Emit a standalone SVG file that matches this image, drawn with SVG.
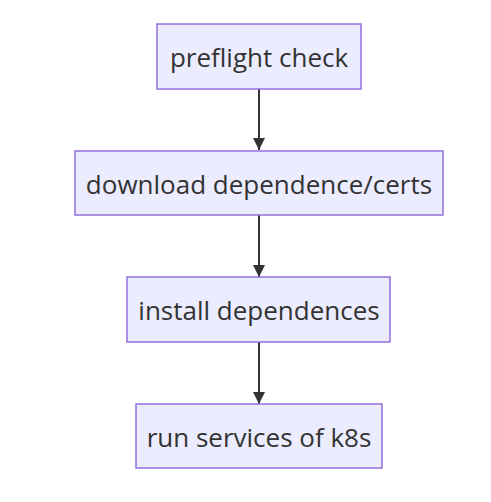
<svg xmlns="http://www.w3.org/2000/svg" width="491" height="502" viewBox="0 0 491 502">
<style>
.node rect{fill:#ECECFF;stroke:#9370DB;stroke-width:1.5}
.node text{font-family:"Open Sans","Noto Sans",sans-serif;font-size:26px;fill:#333;text-anchor:middle;dominant-baseline:central}
.edge{stroke:#333;stroke-width:2;fill:none}
</style>
<defs>
<marker id="arrow" viewBox="0 0 10 10" refX="10" refY="5" markerUnits="userSpaceOnUse" markerWidth="12" markerHeight="12" orient="auto">
<path d="M0,0 L10,5 L0,10 z" fill="#333"/>
</marker>
</defs>
<rect width="491" height="502" fill="#fff"/>
<g id="connectors">
<path class="edge" d="M259,89 L259,150" marker-end="url(#arrow)"/>
<path class="edge" d="M259,215 L259,277" marker-end="url(#arrow)"/>
<path class="edge" d="M259,342 L259,404" marker-end="url(#arrow)"/>
</g>
<g id="preflight" class="node">
<rect x="157" y="24" width="204" height="65"/>
<text x="259" y="57">preflight check</text>
</g>
<g id="download" class="node">
<rect x="75" y="151" width="368" height="64"/>
<text x="259" y="184">download dependence/certs</text>
</g>
<g id="install" class="node">
<rect x="127" y="277" width="263" height="65"/>
<text x="259" y="310">install dependences</text>
</g>
<g id="run" class="node">
<rect x="136" y="404" width="246" height="64"/>
<text x="259" y="437">run services of k8s</text>
</g>
</svg>
